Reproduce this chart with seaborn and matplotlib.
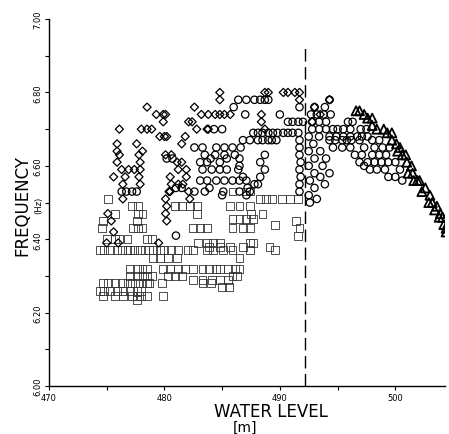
import matplotlib
matplotlib.use('Agg')
import matplotlib.pyplot as plt
import pandas as pd
import seaborn as sns
from matplotlib.ticker import MultipleLocator, FormatStrFormatter

# diamonds (x = water level [m], y = frequency [Hz])
diamond_x = [478.5, 479.3, 479.9, 480.1, 479.9, 476.1, 478.0, 478.5, 478.9, 479.6, 480.0, 480.2,
             481.8, 482.6, 482.1, 482.4, 482.8, 481.5, 475.9, 477.6, 475.9, 478.1, 476.1, 477.8,
             480.1, 480.6, 475.9, 477.9, 481.1, 481.5, 476.3, 476.9, 477.4, 477.9, 481.2, 481.9,
             475.6, 476.6, 477.8, 480.5, 481.9, 476.4, 477.9, 480.6, 481.2, 481.6, 480.5, 476.4,
             475.1, 475.4, 475.6, 475.0, 476.0, 480.4, 480.1, 480.2, 480.1, 480.2, 479.5, 482.1,
             482.2, 484.8, 484.8, 488.7, 489.0, 490.3, 490.7, 491.3, 491.7, 491.7, 483.2, 483.8,
             484.4, 484.8, 485.2, 485.7, 488.4, 488.4, 488.7, 483.7, 483.8, 493.0, 494.3, 493.5,
             492.8]
diamond_y = [6.76, 6.74, 6.74, 6.74, 6.72, 6.70, 6.70, 6.70, 6.70, 6.68, 6.68, 6.68,
             6.68, 6.76, 6.72, 6.72, 6.70, 6.66, 6.66, 6.66, 6.64, 6.64, 6.63, 6.63,
             6.63, 6.63, 6.61, 6.61, 6.61, 6.61, 6.59, 6.59, 6.59, 6.59, 6.59, 6.59,
             6.57, 6.57, 6.57, 6.57, 6.57, 6.55, 6.55, 6.55, 6.55, 6.55, 6.53, 6.51,
             6.47, 6.45, 6.42, 6.39, 6.39, 6.53, 6.51, 6.49, 6.47, 6.45, 6.39, 6.53,
             6.51, 6.80, 6.78, 6.80, 6.80, 6.80, 6.80, 6.80, 6.80, 6.78, 6.74, 6.74,
             6.74, 6.74, 6.74, 6.74, 6.74, 6.72, 6.70, 6.70, 6.70, 6.76, 6.78, 6.74,
             6.72]

# circles
circle_x = [486.4, 487.1, 487.8, 488.3, 488.7, 489.0, 486.0, 491.7, 490.0, 487.0,
            490.7, 491.1, 491.6, 492.0, 484.3, 485.0,
            487.7, 488.1, 488.5, 489.0, 489.4, 489.8, 490.3, 490.7, 491.1, 491.6,
            486.8, 487.4, 488.1, 488.5, 489.0, 489.3, 489.7,
            482.6, 483.3, 484.5, 485.2, 485.9, 486.6,
            480.2, 480.7, 483.5, 484.4, 485.2, 486.1, 488.7, 484.0, 485.4, 486.5,
            483.1, 483.7, 484.8, 486.5, 488.3,
            483.3, 484.1, 484.8, 485.4, 486.4, 488.7,
            486.8, 488.3,
            483.1, 483.7, 484.5, 485.2, 485.9, 486.5, 487.1,
            481.0, 481.5, 488.1, 487.8, 487.2, 483.9,
            482.6, 483.5, 485.1, 485.0, 486.5, 487.1, 487.4,
            491.7, 491.7, 491.7, 491.8, 491.7, 491.8, 491.7, 491.7,
            476.3, 476.7, 477.2, 477.6, 481.0,
            494.3, 493.0, 493.9,
            492.7, 493.2, 493.8, 494.4,
            492.8, 493.4, 494.0, 495.9, 496.3,
            492.8, 493.4, 494.0, 494.6, 495.0, 495.5, 496.1, 497.0, 497.5,
            494.3, 494.9, 495.5, 496.1, 496.7, 497.1, 497.6,
            494.3, 494.8, 495.4, 495.8, 496.2, 496.9, 498.0, 498.6,
            494.6, 495.4, 496.1, 497.3, 498.2, 498.9, 499.5,
            496.5, 497.1, 498.0, 498.6, 499.2,
            496.9, 497.6, 498.2, 498.8, 499.4, 500.0,
            497.3, 497.8, 498.4, 499.1, 500.4,
            499.4, 500.0, 500.6,
            492.5, 492.9, 492.5, 493.0, 492.5, 493.0, 492.6, 493.0, 492.5, 493.5,
            493.7, 493.5, 493.9, 493.4, 494.0, 494.3, 492.6, 493.2]
circle_y = [6.78, 6.78, 6.78, 6.78, 6.78, 6.78, 6.76, 6.76, 6.74, 6.74,
            6.72, 6.72, 6.72, 6.72, 6.70, 6.70,
            6.69, 6.69, 6.69, 6.69, 6.69, 6.69, 6.69, 6.69, 6.69, 6.69,
            6.67, 6.67, 6.67, 6.67, 6.67, 6.67, 6.67,
            6.65, 6.65, 6.65, 6.65, 6.65, 6.65,
            6.62, 6.62, 6.63, 6.63, 6.63, 6.63, 6.63, 6.62, 6.62, 6.62,
            6.61, 6.61, 6.61, 6.60, 6.61,
            6.59, 6.59, 6.59, 6.59, 6.59, 6.59,
            6.57, 6.57,
            6.56, 6.56, 6.56, 6.56, 6.56, 6.56, 6.56,
            6.54, 6.54, 6.55, 6.55, 6.54, 6.54,
            6.53, 6.53, 6.53, 6.52, 6.53, 6.52, 6.53,
            6.67, 6.65, 6.63, 6.61, 6.59, 6.57, 6.55, 6.53,
            6.53, 6.53, 6.53, 6.53, 6.41,
            6.78, 6.76, 6.76,
            6.74, 6.74, 6.74, 6.74,
            6.72, 6.72, 6.72, 6.72, 6.72,
            6.70, 6.70, 6.70, 6.70, 6.70, 6.70, 6.70, 6.70, 6.70,
            6.68, 6.68, 6.68, 6.68, 6.68, 6.68, 6.68,
            6.67, 6.67, 6.67, 6.67, 6.67, 6.67, 6.67, 6.67,
            6.65, 6.65, 6.65, 6.65, 6.65, 6.65, 6.65,
            6.63, 6.63, 6.63, 6.63, 6.63,
            6.61, 6.61, 6.61, 6.61, 6.61, 6.61,
            6.60, 6.59, 6.59, 6.59, 6.59,
            6.57, 6.57, 6.56,
            6.68, 6.66, 6.64, 6.62, 6.60, 6.58, 6.56, 6.54, 6.52, 6.64,
            6.60, 6.57, 6.55, 6.68, 6.62, 6.58, 6.50, 6.51]

# squares
square_x = [485.9, 487.1, 487.4,
            475.1, 488.3, 488.8, 489.3, 490.2, 490.9, 491.6,
            477.2, 477.7, 480.9, 481.5, 482.2, 482.8, 485.7, 486.5, 487.4,
            475.7, 477.7, 478.1, 482.8, 487.5, 488.5,
            485.9, 486.5, 487.1, 487.7, 489.6, 491.4, 474.7, 477.6,
            474.6, 477.3, 477.7, 478.1, 482.5, 483.1, 483.7, 485.9, 486.8, 487.4, 491.7,
            491.6,
            475.0, 475.7, 476.1, 476.8, 478.5, 478.9, 482.9, 483.7, 484.2, 484.8, 487.4, 487.7,
            483.9, 484.8, 485.7, 486.8, 489.1,
            474.4, 474.8, 475.3, 475.9, 476.3, 476.8, 477.0, 477.4, 477.9, 478.3, 478.7, 479.0,
            479.6, 480.0, 480.6, 481.2, 482.0, 482.5, 483.7, 484.2, 485.1, 485.9, 487.4, 489.6,
            479.0, 479.6, 480.3, 481.1, 486.5,
            477.0, 477.6, 478.1, 478.5, 479.9, 480.5, 481.2, 481.8, 482.5, 483.3, 483.9, 484.5,
            484.8, 485.5, 486.1, 486.5,
            477.0, 477.6, 478.1, 478.5, 478.9, 480.3, 480.9, 481.5, 482.5, 483.3, 484.1, 484.8,
            485.5, 485.9, 486.3,
            474.7, 475.1, 475.7, 476.3, 476.8, 477.2, 477.7, 478.1, 478.5, 478.7, 479.8, 483.3,
            484.0, 485.0, 485.6,
            474.4, 474.8, 475.3, 475.9, 476.4, 477.0, 477.6, 478.0,
            474.7, 475.7, 476.4, 477.2, 477.6, 478.0, 478.5, 479.9,
            477.6]
square_y = [6.53, 6.53, 6.53,
            6.51, 6.51, 6.51, 6.51, 6.51, 6.51, 6.51,
            6.49, 6.49, 6.49, 6.49, 6.49, 6.49, 6.49, 6.49, 6.49,
            6.47, 6.47, 6.47, 6.47, 6.47, 6.47,
            6.455, 6.455, 6.455, 6.455, 6.44, 6.45, 6.45, 6.45,
            6.43, 6.43, 6.43, 6.43, 6.43, 6.43, 6.43, 6.43, 6.43, 6.43, 6.43,
            6.41,
            6.40, 6.40, 6.40, 6.40, 6.40, 6.40, 6.39, 6.39, 6.39, 6.39, 6.39, 6.39,
            6.38, 6.38, 6.38, 6.38, 6.38,
            6.37, 6.37, 6.37, 6.37, 6.37, 6.37, 6.37, 6.37, 6.37, 6.37, 6.37, 6.37,
            6.37, 6.37, 6.37, 6.37, 6.37, 6.37, 6.37, 6.37, 6.37, 6.37, 6.37, 6.37,
            6.35, 6.35, 6.35, 6.35, 6.35,
            6.32, 6.32, 6.32, 6.32, 6.32, 6.32, 6.32, 6.32, 6.32, 6.32, 6.32, 6.32,
            6.32, 6.32, 6.32, 6.32,
            6.30, 6.30, 6.30, 6.30, 6.30, 6.30, 6.30, 6.30, 6.29, 6.29, 6.29, 6.29,
            6.29, 6.30, 6.30,
            6.28, 6.28, 6.28, 6.28, 6.28, 6.28, 6.28, 6.28, 6.28, 6.28, 6.28, 6.28,
            6.28, 6.27, 6.27,
            6.26, 6.26, 6.26, 6.26, 6.26, 6.26, 6.26, 6.26,
            6.245, 6.245, 6.245, 6.245, 6.245, 6.245, 6.245, 6.245,
            6.235]

# triangles
triangle_x = [496.6, 496.9, 497.6, 498.0, 498.0, 498.4, 499.3, 499.7, 499.7, 500.1, 500.4,
              500.6, 501.0, 501.4, 501.5, 501.9, 502.1, 502.6, 503.0, 503.2, 503.6, 503.9,
              504.1, 504.5, 504.4, 502.3, 502.9, 503.4, 503.8, 504.2, 504.4, 501.1, 501.6,
              500.9, 500.2, 499.0, 497.3]
triangle_y = [6.75, 6.75, 6.73, 6.73, 6.71, 6.70, 6.69, 6.69, 6.67, 6.66, 6.65,
              6.63, 6.61, 6.60, 6.58, 6.56, 6.56, 6.54, 6.52, 6.50, 6.49, 6.47,
              6.46, 6.44, 6.43, 6.53, 6.50, 6.48, 6.46, 6.44, 6.42, 6.58, 6.56,
              6.63, 6.64, 6.70, 6.74]

boundary_level = 492.2

sns.set_style('ticks', {'axes.edgecolor': 'black', 'xtick.color': 'black',
                        'ytick.color': 'black', 'text.color': 'black'})
fig = plt.figure(figsize=(4.49, 4.35), dpi=100)
ax = fig.add_axes([0.109, 0.110, 0.882, 0.844])

sq = pd.DataFrame({'level': square_x, 'freq': square_y})
ci = pd.DataFrame({'level': circle_x, 'freq': circle_y})
di = pd.DataFrame({'level': diamond_x, 'freq': diamond_y})
tr = pd.DataFrame({'level': triangle_x, 'freq': triangle_y})

sns.scatterplot(data=sq, x='level', y='freq', marker='s', s=32, facecolors='none',
                edgecolor='#333333', linewidth=0.6, ax=ax)
sns.scatterplot(data=ci, x='level', y='freq', marker='o', s=28, facecolors='none',
                edgecolor='black', linewidth=0.9, ax=ax)
sns.scatterplot(data=di, x='level', y='freq', marker='D', s=17, facecolors='none',
                edgecolor='black', linewidth=0.9, ax=ax)
sns.scatterplot(data=tr, x='level', y='freq', marker='^', s=42, facecolors='none',
                edgecolor='black', linewidth=1.3, ax=ax)

ax.axvline(boundary_level, ymin=0, ymax=0.93, color='black', lw=1.0, linestyle=(0, (9, 4)))

ax.set_xlim(470, 504.3)
ax.set_ylim(6.0, 7.0)
ax.xaxis.set_major_locator(MultipleLocator(10))
ax.xaxis.set_minor_locator(MultipleLocator(5))
ax.yaxis.set_major_locator(MultipleLocator(0.2))
ax.yaxis.set_minor_locator(MultipleLocator(0.1))
ax.yaxis.set_major_formatter(FormatStrFormatter('%.2f'))
ax.tick_params(which='both', direction='out', length=3, width=0.8, labelsize=6, pad=2,
               colors='black')
for lab in ax.get_yticklabels():
    lab.set_rotation(90)
    lab.set_va('center')
ax.set_xlabel('')
ax.set_ylabel('')
sns.despine(ax=ax)
for sp in ['left', 'bottom']:
    ax.spines[sp].set_linewidth(1.0)
    ax.spines[sp].set_color('black')

fig.text(0.049, 0.527, 'FREQUENCY', rotation=90, ha='center', va='center', fontsize=12)
fig.text(0.087, 0.527, '(Hz)', rotation=90, ha='center', va='center', fontsize=6)
fig.text(0.604, 0.053, 'WATER LEVEL', ha='center', va='center', fontsize=12)
fig.text(0.546, 0.016, '[m]', ha='center', va='center', fontsize=10)

fig.savefig('out.png', dpi=100)
